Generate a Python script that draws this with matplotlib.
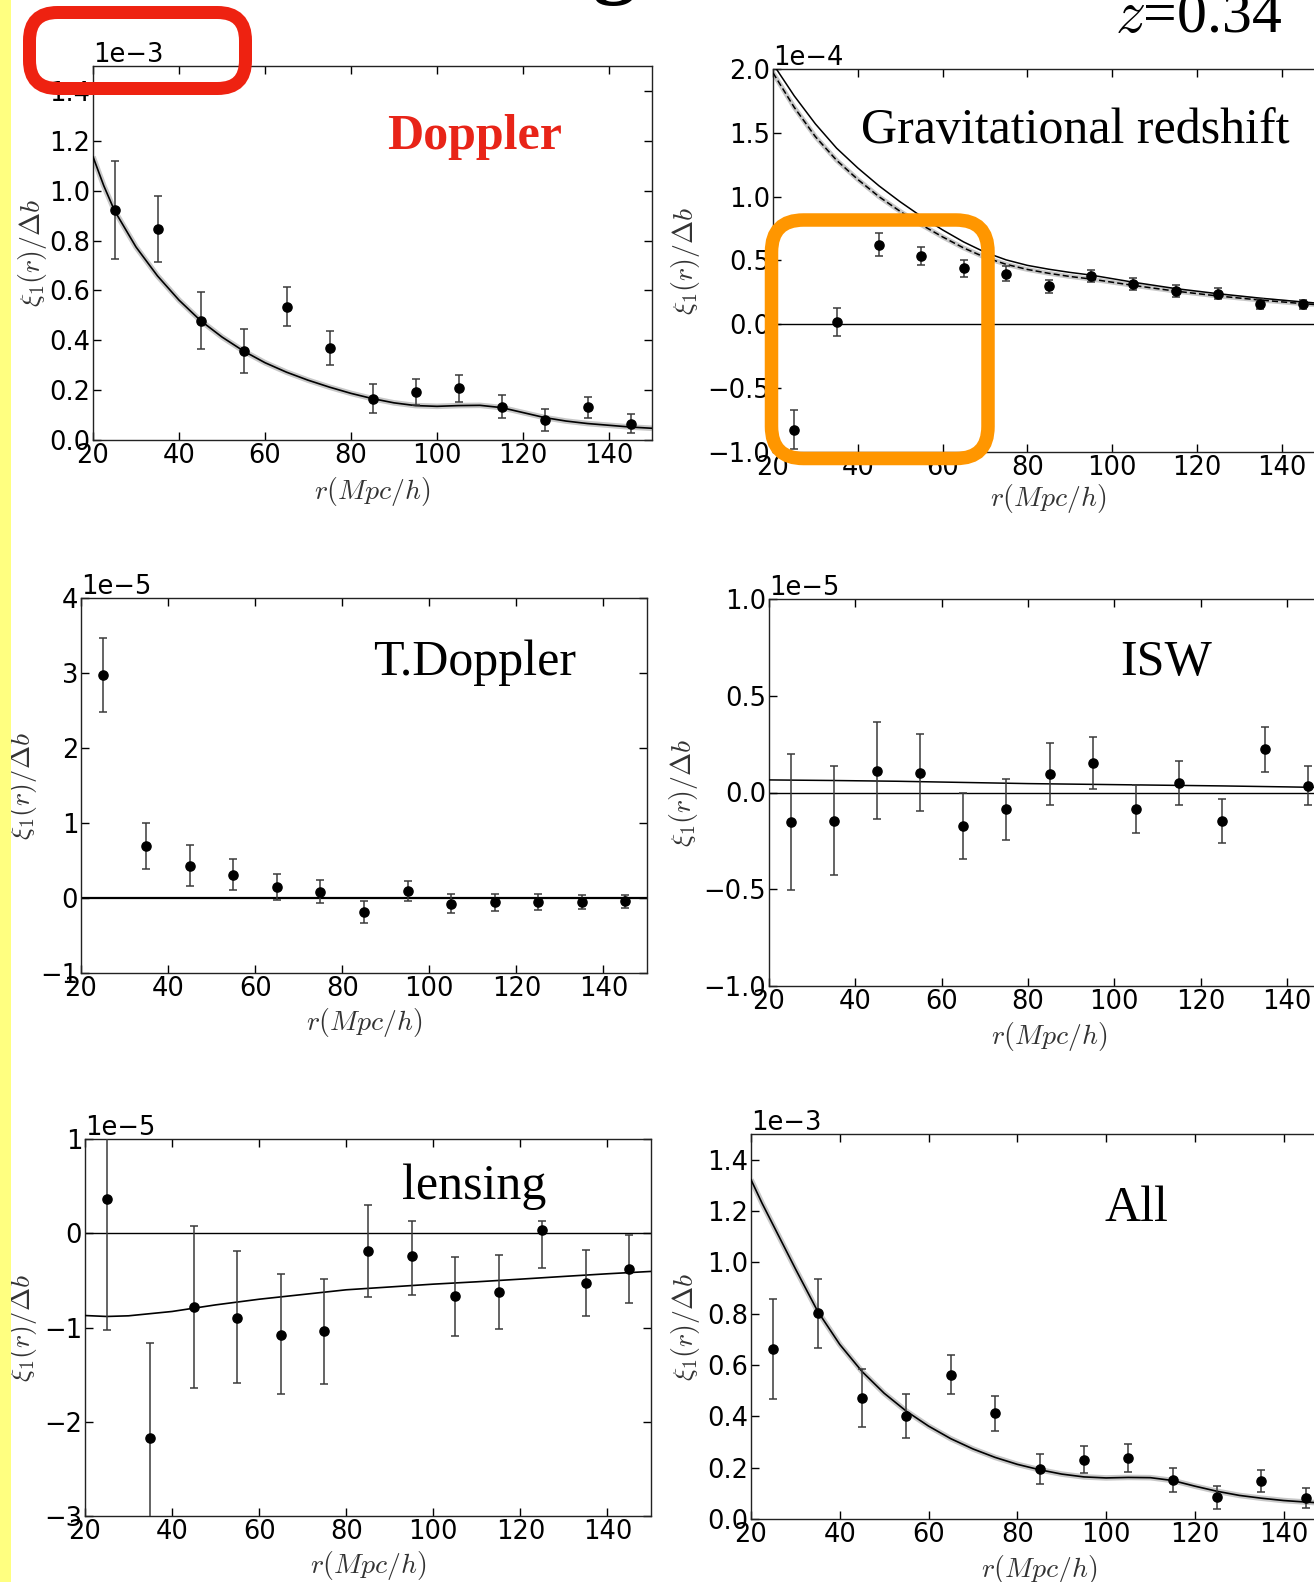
import numpy as np
import matplotlib
matplotlib.use("Agg")
import matplotlib.pyplot as plt
from matplotlib.patches import FancyBboxPatch, Rectangle
from matplotlib.transforms import IdentityTransform

plt.rcParams['mathtext.fontset'] = 'cm'
plt.rcParams['font.family'] = ['DejaVu Sans']
plt.rcParams['axes.unicode_minus'] = True

# ---------------- data ----------------
r_bins = [25, 35, 45, 55, 65, 75, 85, 95, 105, 115, 125, 135, 145]

# Doppler (x1e-3)
dop_val = [0.922, 0.846, 0.479, 0.357, 0.535, 0.370, 0.166, 0.194, 0.207, 0.134, 0.080, 0.131, 0.066]
dop_err = [0.195, 0.134, 0.114, 0.087, 0.078, 0.068, 0.058, 0.052, 0.055, 0.047, 0.045, 0.043, 0.038]
dop_model_r = [20, 22.5, 25, 30, 35, 40, 45, 50, 55, 60, 65, 70, 75, 80, 85, 90, 95, 100,
               105, 110, 115, 120, 125, 130, 135, 140, 145, 150]
dop_model = [1.136, 1.02, 0.92, 0.774, 0.658, 0.561, 0.479, 0.413, 0.357, 0.31, 0.272, 0.24,
             0.212, 0.187, 0.166, 0.149, 0.138, 0.135, 0.138, 0.139, 0.130, 0.110, 0.090,
             0.076, 0.066, 0.059, 0.052, 0.047]

# Gravitational redshift (x1e-4)
grav_val = [-0.826, 0.018, 0.625, 0.536, 0.439, 0.397, 0.298, 0.379, 0.314, 0.261, 0.240, 0.157, 0.157]
grav_err = [0.152, 0.112, 0.090, 0.072, 0.068, 0.058, 0.053, 0.050, 0.048, 0.045, 0.044, 0.040, 0.037]
grav_model_r = [20.8, 25, 30, 35, 40, 45, 50, 55, 60, 65, 70, 75, 80, 85, 90, 95, 105, 115,
                125, 135, 145, 150]
grav_model = [2.0, 1.79, 1.57, 1.38, 1.225, 1.085, 0.96, 0.845, 0.74, 0.645, 0.565, 0.505, 0.462,
              0.432, 0.407, 0.386, 0.33, 0.28, 0.24, 0.205, 0.175, 0.162]
grav_dash_r = [20, 25, 30, 35, 40, 45, 50, 55, 60, 65, 70, 75, 80, 85, 90, 95, 105, 115,
               125, 135, 145, 150]
grav_dash = [1.97, 1.70, 1.47, 1.285, 1.135, 1.00, 0.885, 0.78, 0.685, 0.598, 0.525, 0.47, 0.43,
             0.40, 0.375, 0.355, 0.305, 0.26, 0.222, 0.19, 0.162, 0.15]

# Transverse Doppler (x1e-5)
tdop_val = [2.97, 0.69, 0.43, 0.31, 0.147, 0.084, -0.19, 0.093, -0.075, -0.058, -0.053, -0.049, -0.044]
tdop_err = [0.49, 0.31, 0.27, 0.21, 0.17, 0.155, 0.15, 0.137, 0.13, 0.115, 0.107, 0.093, 0.089]

# ISW (x1e-5)
isw_val = [-0.152, -0.146, 0.113, 0.102, -0.175, -0.087, 0.094, 0.151, -0.084, 0.049, -0.146, 0.223, 0.035]
isw_err = [0.353, 0.282, 0.249, 0.200, 0.170, 0.157, 0.160, 0.134, 0.125, 0.113, 0.114, 0.117, 0.100]
isw_model_r = [20, 35, 50, 65, 80, 95, 110, 125, 140, 150]
isw_model = [0.065, 0.062, 0.058, 0.052, 0.046, 0.042, 0.038, 0.034, 0.029, 0.025]

# lensing (x1e-5)
lens_val = [0.363, -2.175, -0.78, -0.894, -1.078, -1.042, -0.193, -0.246, -0.671, -0.621, 0.03, -0.529, -0.377]
lens_err_lo = [1.388, 1.015, 0.857, 0.698, 0.626, 0.553, 0.485, 0.414, 0.417, 0.393, 0.40, 0.344, 0.365]
lens_err_hi = [1.388, 1.015, 0.853, 0.701, 0.648, 0.555, 0.489, 0.375, 0.418, 0.393, 0.096, 0.347, 0.357]
lens_model_r = [20, 25, 30, 40, 50, 60, 70, 80, 90, 100, 110, 120, 130, 140, 150]
lens_model = [-0.873, -0.883, -0.876, -0.83, -0.76, -0.70, -0.65, -0.60, -0.57, -0.54, -0.515,
              -0.487, -0.458, -0.43, -0.405]

# All (x1e-3)
all_val = [0.662, 0.802, 0.472, 0.400, 0.562, 0.412, 0.195, 0.231, 0.238, 0.151, 0.084, 0.149, 0.082]
all_err = [0.195, 0.134, 0.113, 0.086, 0.076, 0.068, 0.059, 0.052, 0.054, 0.047, 0.044, 0.043, 0.039]
all_model_r = dop_model_r
all_model = [1.322, 1.23, 1.145, 0.975, 0.81, 0.68, 0.575, 0.49, 0.42, 0.362, 0.313, 0.273,
             0.24, 0.213, 0.192, 0.175, 0.164, 0.160, 0.162, 0.161, 0.150, 0.128, 0.108,
             0.092, 0.081, 0.072, 0.066, 0.061]

# ---------------- figure ----------------
W, H = 1314, 1582
fig = plt.figure(figsize=(W / 100, H / 100), dpi=100)

def add_axes_px(l, t, r, b):
    return fig.add_axes([l / W, 1 - b / H, (r - l) / W, (b - t) / H])

TICKFS = 18.5
LABFS = 20
TXTFS = 36
SERIF = ['Liberation Serif', 'DejaVu Serif']

def style(ax, ylim, yticks, scale, xl_y, yl_x):
    ax.set_xlim(20, 150)
    ax.set_ylim(ylim[0] * scale, ylim[1] * scale)
    ax.set_xticks([20, 40, 60, 80, 100, 120, 140])
    ax.set_yticks([v * scale for v in yticks])
    ax.ticklabel_format(style='sci', axis='y', scilimits=(0, 0))
    ax.tick_params(direction='in', top=True, right=True, length=6, width=1,
                   labelsize=TICKFS, pad=2, colors='black')
    ax.yaxis.get_offset_text().set_fontsize(TICKFS)
    for s in ax.spines.values():
        s.set_linewidth(1.0)
        s.set_color('#222222')
    ax.set_xlabel(r'$r(Mpc/h)$', fontsize=LABFS, color='#333333', va='center')
    ax.set_ylabel(r'$\xi_1(r)/\Delta b$', fontsize=LABFS, color='#333333', va='center')
    ax.xaxis.set_label_coords(0.5, xl_y)
    ax.yaxis.set_label_coords(yl_x, 0.5)

def data(ax, vals, err, scale):
    if isinstance(err, tuple):
        yerr = [np.array(err[0]) * scale, np.array(err[1]) * scale]
    else:
        yerr = np.array(err) * scale
    ax.errorbar(r_bins, np.array(vals) * scale, yerr=yerr, fmt='o', color='black',
                ms=6.6, ecolor='#3a3a3a', elinewidth=1.1, capsize=3, capthick=1.1, zorder=5)

def label(ax, x_px, y_px, text, **kw):
    fig.text(x_px / W, 1 - y_px / H, text, ha='center', va='baseline',
             fontsize=kw.pop('fontsize', TXTFS), family=SERIF, **kw)

# Panel 1: Doppler
ax1 = add_axes_px(93, 66, 652, 440)
s = 1e-3
ax1.plot(dop_model_r, np.array(dop_model) * s, color='#c8c8c8', lw=4, zorder=2, solid_capstyle='butt')
ax1.plot(dop_model_r, np.array(dop_model) * s, color='black', lw=1.2, zorder=3)
data(ax1, dop_val, dop_err, s)
style(ax1, (0, 1.5), [0, 0.2, 0.4, 0.6, 0.8, 1.0, 1.2, 1.4], s, -0.1364, -0.109)
label(ax1, 475, 149, 'Doppler', color='#E82418', fontweight='bold')

# Panel 2: Gravitational redshift
ax2 = add_axes_px(773, 69, 1324, 452)
s = 1e-4
ax2.axhline(0, color='black', lw=1.0, zorder=2)
ax2.plot(grav_model_r, np.array(grav_model) * s, color='black', lw=1.1, zorder=3)
ax2.plot(grav_dash_r, np.array(grav_dash) * s, color='#c8c8c8', lw=3.5, zorder=2)
ax2.plot(grav_dash_r, np.array(grav_dash) * s, color='black', lw=1.1, ls=(0, (4, 2)), zorder=3)
data(ax2, grav_val, grav_err, s)
style(ax2, (-1, 2), [-1.0, -0.5, 0.0, 0.5, 1.0, 1.5, 2.0], s, -0.1227, -0.158)
label(ax2, 1075, 143, 'Gravitational redshift')

# Panel 3: T.Doppler
ax3 = add_axes_px(81, 598, 647, 973)
s = 1e-5
ax3.axhline(0, color='black', lw=1.6, zorder=2)
data(ax3, tdop_val, tdop_err, s)
style(ax3, (-1, 4), [-1, 0, 1, 2, 3, 4], s, -0.1307, -0.104)
label(ax3, 475, 675, 'T.Doppler')

# Panel 4: ISW
ax4 = add_axes_px(769, 599, 1330, 986)
s = 1e-5
ax4.axhline(0, color='black', lw=1.0, zorder=2)
ax4.plot(isw_model_r, np.array(isw_model) * s, color='black', lw=1.1, zorder=3)
data(ax4, isw_val, isw_err, s)
style(ax4, (-1, 1), [-1.0, -0.5, 0.0, 0.5, 1.0], s, -0.1292, -0.153)
label(ax4, 1166, 675, 'ISW')

# Panel 5: lensing
ax5 = add_axes_px(85, 1139, 651, 1516)
s = 1e-5
ax5.axhline(0, color='black', lw=1.0, zorder=2)
ax5.plot(lens_model_r, np.array(lens_model) * s, color='black', lw=1.2, zorder=3)
data(ax5, lens_val, (lens_err_lo, lens_err_hi), s)
style(ax5, (-3, 1), [-3, -2, -1, 0, 1], s, -0.130, -0.111)
label(ax5, 474, 1199, 'lensing')

# Panel 6: All
ax6 = add_axes_px(751, 1134, 1328, 1519)
s = 1e-3
ax6.plot(all_model_r, np.array(all_model) * s, color='#c8c8c8', lw=4, zorder=2, solid_capstyle='butt')
ax6.plot(all_model_r, np.array(all_model) * s, color='black', lw=1.2, zorder=3)
data(ax6, all_val, all_err, s)
style(ax6, (0, 1.5), [0, 0.2, 0.4, 0.6, 0.8, 1.0, 1.2, 1.4], s, -0.130, -0.113)
label(ax6, 1136, 1221, 'All')

# redshift label and cut-off title fragment
fig.text(1282 / W, 1 - 32 / H, r'$z$=0.34', ha='right', va='baseline', fontsize=43, family=SERIF)
fig.text(614 / W, 1 + 13 / H, 'g', ha='center', va='baseline', fontsize=62,
         family=SERIF, fontweight='bold')

# yellow strip on the left
fig.patches.append(Rectangle((0, 0), 11 / W, 1, transform=fig.transFigure,
                             facecolor='#FFFF80', edgecolor='none', zorder=0))

# highlight boxes (pixel coordinates, origin bottom-left)
def rbox(x0, y0t, x1, y1t, color, lw_px, rad):
    p = FancyBboxPatch((x0, H - y1t), x1 - x0, y1t - y0t,
                       boxstyle=f'round,pad=0,rounding_size={rad}',
                       transform=IdentityTransform(), facecolor='none',
                       edgecolor=color, linewidth=lw_px * 0.72, zorder=20)
    fig.patches.append(p)

rbox(29.5, 12.5, 245.5, 88.5, '#EE2211', 13, 28)
rbox(771.5, 220, 988, 458.5, '#FF9600', 13.5, 32)

fig.savefig('out.png', dpi=100)
